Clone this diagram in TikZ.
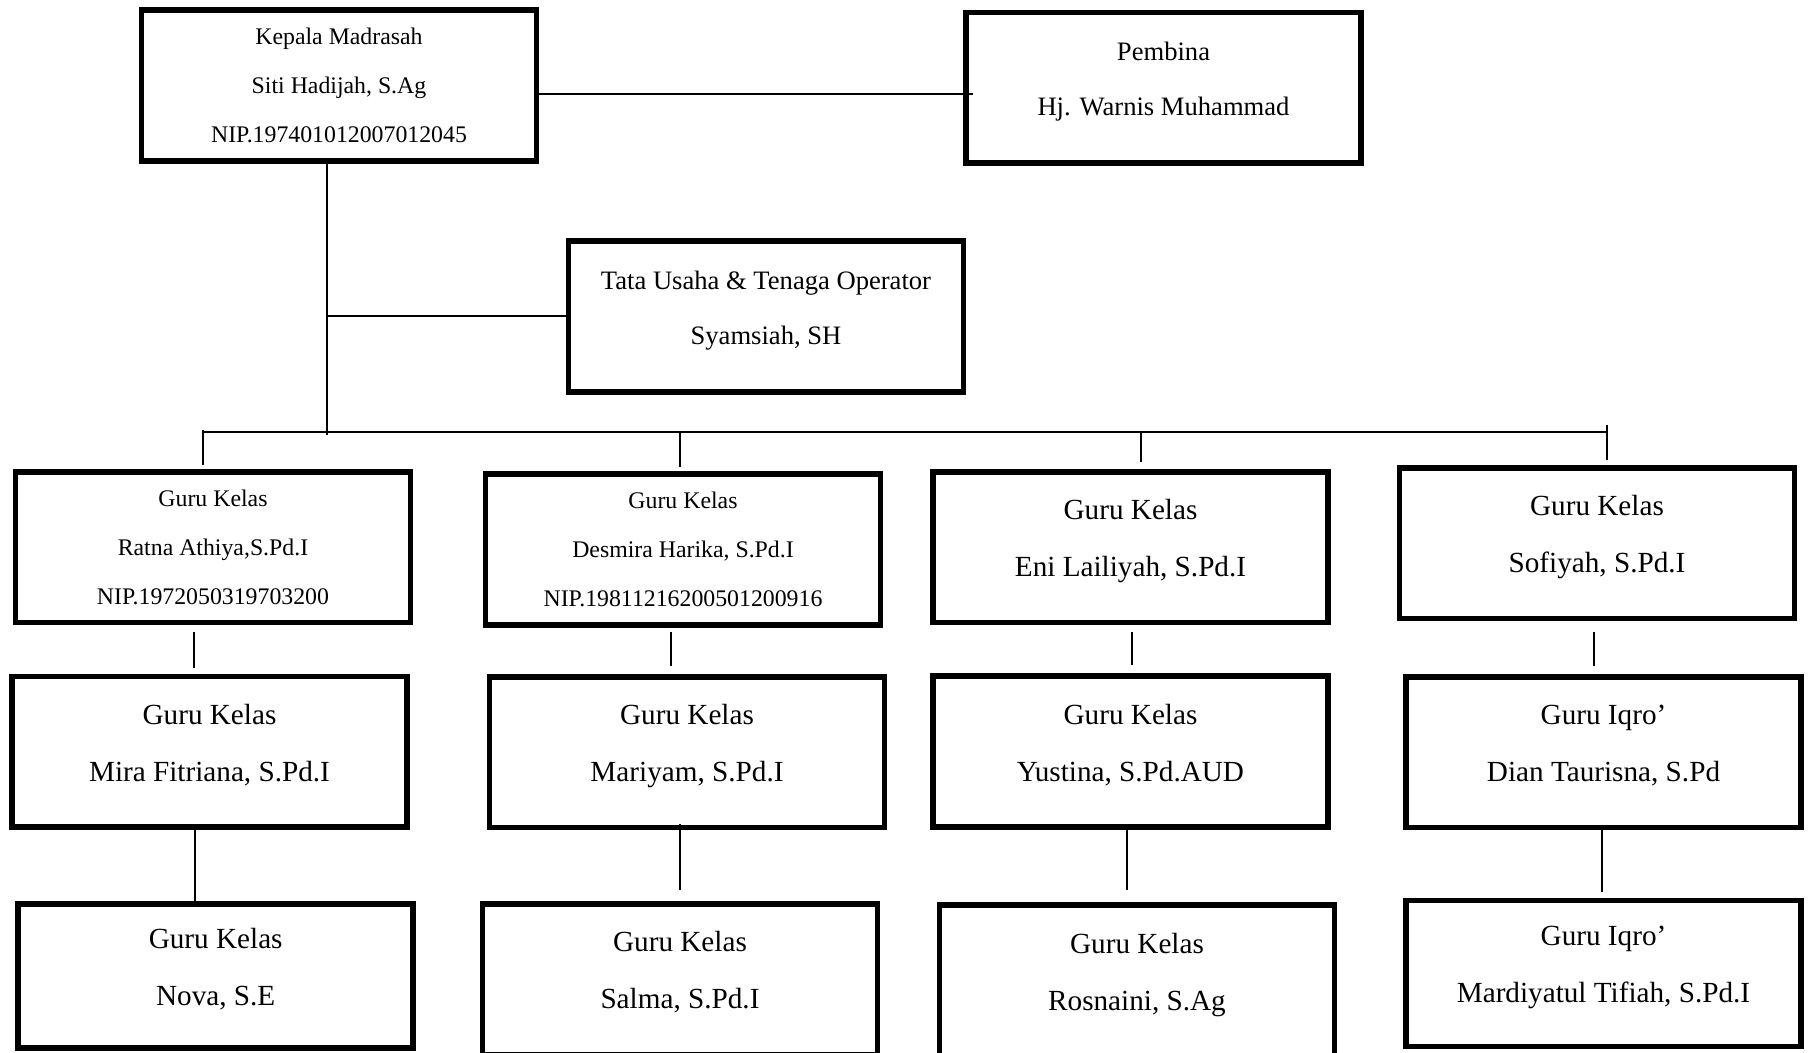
\documentclass[tikz,border=0pt]{standalone}
\usepackage{fontspec}
\setmainfont{Liberation Serif}

\begin{document}
\begin{tikzpicture}[
  x=0.5pt,y=-0.5pt,
  box/.style={draw,line width=2.8pt,minimum width=197.5pt,minimum height=75.3pt,
    inner sep=0pt,align=center},
  small/.style={box,font=\fontsize{11.9pt}{24.5pt}\selectfont},
  mid/.style={box,font=\fontsize{13.3pt}{27.5pt}\selectfont,text depth=9pt},
  big/.style={box,font=\fontsize{14.6pt}{28.5pt}\selectfont,text depth=9pt},
  link/.style={line width=1pt}]
\useasboundingbox (0,0) rectangle (1809,1053);
\clip (0,0) rectangle (1809,1053);
\node[small] (head) at (339,85.5) {Kepala Madrasah\\Siti Hadijah, S.Ag\\NIP.197401012007012045};
\node[mid] (advisor) at (1163.5,88) {Pembina\\Hj. Warnis Muhammad};
\node[mid] (admin) at (766,316.5) {Tata Usaha \& Tenaga Operator\\Syamsiah, SH};
% first row
\node[small] (ratna) at (213,547) {Guru Kelas\\Ratna Athiya,S.Pd.I\\NIP.1972050319703200};
\node[small] (desmira) at (683,549.5) {Guru Kelas\\Desmira Harika, S.Pd.I\\NIP.19811216200501200916};
\node[big] (eni) at (1130.5,547.3) {Guru Kelas\\Eni Lailiyah, S.Pd.I};
\node[big] (sofiyah) at (1597,543.3) {Guru Kelas\\Sofiyah, S.Pd.I};
% second row
\node[big] (mira) at (209.5,751.6) {Guru Kelas\\Mira Fitriana, S.Pd.I};
\node[big] (mariyam) at (687,752) {Guru Kelas\\Mariyam, S.Pd.I};
\node[big] (yustina) at (1130.5,751.5) {Guru Kelas\\Yustina, S.Pd.AUD};
\node[big] (dian) at (1603.5,752) {Guru Iqro’\\Dian Taurisna, S.Pd};
% third row
\node[big,minimum height=72pt] (nova) at (215.7,976) {Guru Kelas\\Nova, S.E};
\node[big] (salma) at (680,979) {Guru Kelas\\Salma, S.Pd.I};
\node[big] (rosnaini) at (1137,980.5) {Guru Kelas\\Rosnaini, S.Ag};
\node[big,minimum height=73pt] (mardiyatul) at (1603.5,973.6) {Guru Iqro’\\Mardiyatul Tifiah, S.Pd.I};
\coordinate (trunk) at ([xshift=-6pt]head.south);
\coordinate (busL) at (203,432);
\coordinate (busR) at (1607,432);
\draw[link,shorten >=-5pt] ([yshift=-4.4pt]head.east) -- ([yshift=-4.4pt]head.east -| advisor.west);
\draw[link,shorten >=-1.5pt] (trunk) -- (trunk |- busL);
\draw[link] (admin.west) -- (admin.west -| trunk);
\draw[link] (busL) -- (busR);
\draw[link,shorten <=-1pt,shorten >=2pt] (busL) -- (busL |- ratna.north);
\draw[link,shorten >=2pt] ([xshift=-1.5pt]desmira.north |- busL) -- ([xshift=-1.5pt]desmira.north);
\draw[link,shorten >=3.8pt] ([xshift=5pt]eni.north |- busL) -- ([xshift=5pt]eni.north);
\draw[link,shorten <=-3.5pt,shorten >=2.6pt] (busR) -- (busR |- sofiyah.north);
\draw[link,shorten <=3.5pt,shorten >=3pt] ([xshift=-9.75pt]ratna.south) -- ([xshift=-9.75pt]ratna.south |- mira.north);
\draw[link,shorten <=2pt,shorten >=4pt] ([xshift=-6.25pt]desmira.south) -- ([xshift=-6.25pt]desmira.south |- mariyam.north);
\draw[link,shorten <=3.5pt,shorten >=4pt] ([xshift=0.75pt]eni.south) -- ([xshift=0.75pt]eni.south |- yustina.north);
\draw[link,shorten <=5.5pt,shorten >=4pt] ([xshift=-1.5pt]sofiyah.south) -- ([xshift=-1.5pt]sofiyah.south |- dian.north);
\draw[link] ([xshift=-7.25pt]mira.south) -- ([xshift=-7.25pt]mira.south |- nova.north);
\draw[link,shorten <=-3pt,shorten >=5.5pt] ([xshift=-3.5pt]mariyam.south) -- ([xshift=-3.5pt]mariyam.south |- salma.north);
\draw[link,shorten <=-2.2pt,shorten >=6pt] ([xshift=-1.75pt]yustina.south) -- ([xshift=-1.75pt]yustina.south |- rosnaini.north);
\draw[link,shorten <=-2.6pt,shorten >=3pt] ([xshift=-1pt]dian.south) -- ([xshift=-1pt]dian.south |- mardiyatul.north);
\end{tikzpicture}
\end{document}
